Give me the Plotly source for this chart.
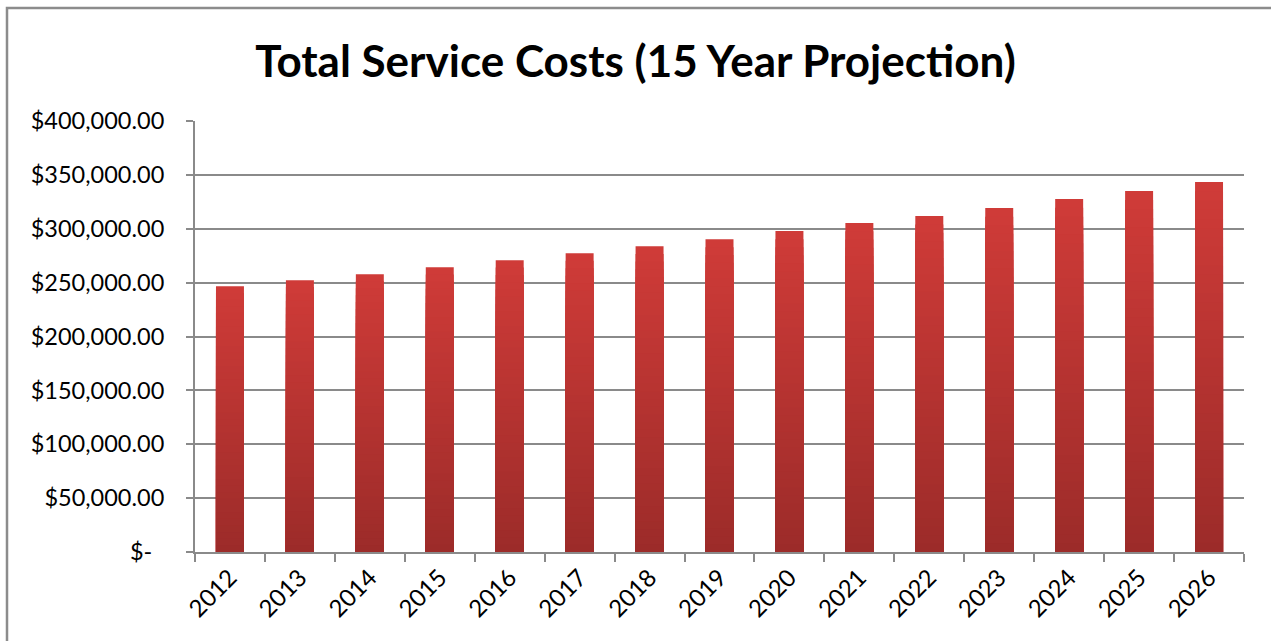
import plotly.graph_objects as go

# ---- data ----
years = ["2012", "2013", "2014", "2015", "2016", "2017", "2018", "2019",
         "2020", "2021", "2022", "2023", "2024", "2025", "2026"]
costs = [246600, 252200, 257700, 264200, 270700, 277200, 283700, 290200,
         297800, 305300, 311800, 319200, 327600, 335000, 343300]
y_tick_values = [0, 50000, 100000, 150000, 200000, 250000, 300000, 350000, 400000]
y_tick_labels = ["$-\u00a0\u00a0", "$50,000.00", "$100,000.00", "$150,000.00",
                 "$200,000.00", "$250,000.00", "$300,000.00", "$350,000.00",
                 "$400,000.00"]
title_text = "Total Service Costs (15 Year Projection)"

# ---- style ----
TOP = (207, 59, 56)
BOTTOM = (155, 43, 41)
STEPS = 40
FONT = "Lato"
GRID = "#8a8a8a"

fig = go.Figure()
# vertical gradient per bar built from overlaid fractions of each value
for k in range(STEPS):
    f = 1 - k / STEPS
    c = tuple(round(BOTTOM[i] + (TOP[i] - BOTTOM[i]) * f) for i in range(3))
    fig.add_trace(go.Bar(
        x=years, y=[v * f for v in costs], width=0.4,
        marker=dict(color=f"rgb{c}", line=dict(width=0)),
        hoverinfo="skip" if k else "x+y", showlegend=False,
    ))

W, H = 1271, 641
ml, mr, mt, mb = 195, 27, 121, 89
pw, ph = W - ml - mr, H - mt - mb

fig.update_layout(
    width=W, height=H,
    margin=dict(l=ml, r=mr, t=mt, b=mb),
    barmode="overlay",
    paper_bgcolor="white", plot_bgcolor="white",
    font=dict(family=FONT, size=23, color="black"),
    title=dict(text=f"<b>{title_text}</b>", x=0.5, xref="container", xanchor="center",
               y=1 - 62 / H, yref="container", yanchor="middle",
               font=dict(family=FONT, size=44, color="black")),
    xaxis=dict(type="category", range=[-0.5, 14.5], tickangle=-45,
               showline=True, linecolor=GRID, linewidth=2,
               ticks="outside", tickson="boundaries", ticklen=8, tickwidth=2,
               tickcolor=GRID, showgrid=False,
               tickfont=dict(family=FONT, size=24)),
    yaxis=dict(range=[0, 400000], tickvals=y_tick_values, ticktext=y_tick_labels,
               showline=True, linecolor=GRID, linewidth=2,
               ticks="outside", ticklen=7, tickwidth=2, tickcolor=GRID,
               showgrid=True, gridcolor=GRID, gridwidth=2, zeroline=False,
               ticklabelstandoff=17,
               tickfont=dict(family=FONT, size=23.5)),
    shapes=[dict(type="rect", xref="paper", yref="paper",
                 x0=(7 - ml) / pw, x1=(W + 20 - ml) / pw,
                 y0=-(H + 20 - (mt + ph)) / ph, y1=(mt + ph - 8) / ph,
                 line=dict(color="#8c8c8c", width=2.5), layer="below")],
)

fig.write_html("out.html")
